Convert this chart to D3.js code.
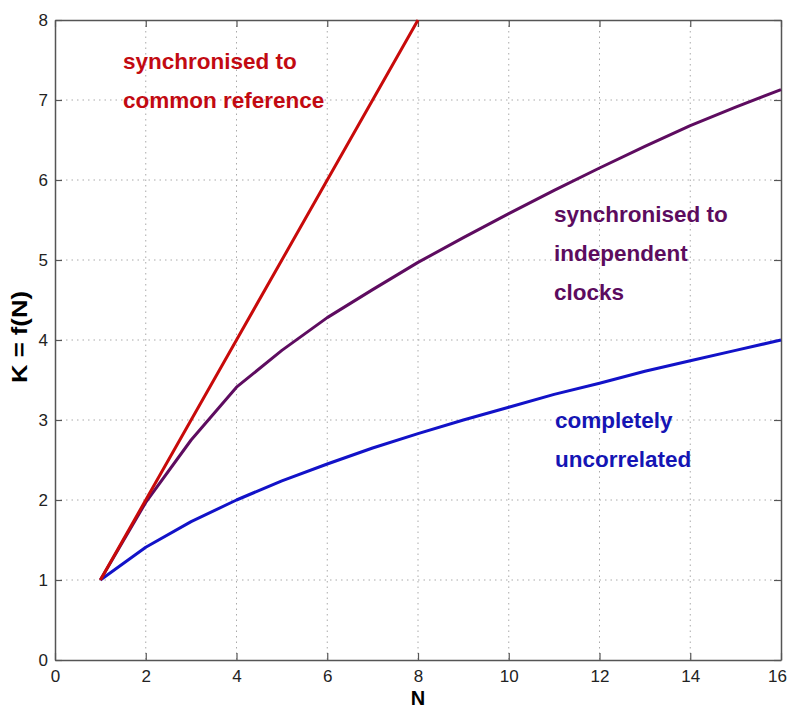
<!DOCTYPE html>
<html><head><meta charset="utf-8">
<script src="https://cdn.jsdelivr.net/npm/d3@7"></script>
<style>body{margin:0;background:#fff}svg{display:block}text{font-family:"Liberation Sans",Arial,Helvetica,sans-serif}</style>
</head><body><svg id="c" width="789" height="709"></svg>
<script>
const nCommon = [1,2,3,4,5,6,7,8];
const kCommon = [1,2,3,4,5,6,7,8];
const nAll = [1,2,3,4,5,6,7,8,9,10,11,12,13,14,15,16];
const kIndependent = [1,1.97,2.75,3.41,3.87,4.28,4.63,4.97,5.28,5.58,5.87,6.15,6.42,6.68,6.91,7.13];
const kUncorrelated = [1,1.41,1.73,2,2.24,2.45,2.65,2.83,3,3.16,3.32,3.46,3.61,3.74,3.87,4];
const xTicks = [0,2,4,6,8,10,12,14,16];
const yTicks = [0,1,2,3,4,5,6,7,8];
const labelCommon = ["synchronised to","common reference"];
const labelIndependent = ["synchronised to","independent","clocks"];
const labelUncorrelated = ["completely","uncorrelated"];

(function(){
const svg = d3.select("#c");
const L=55,R=781,T=20,B=660;
const x = d3.scaleLinear().domain([0,16]).range([L,R]);
const y = d3.scaleLinear().domain([0,8]).range([B,T]);

// grid
const g = svg.append("g");
g.selectAll(".gx").data(xTicks.slice(1,-1)).enter().append("line")
 .attr("x1",d=>x(d)).attr("x2",d=>x(d)).attr("y1",T).attr("y2",B)
 .attr("stroke","#aaa").attr("stroke-width",1).attr("stroke-dasharray","1.5,4");
g.selectAll(".gy").data(yTicks.slice(1,-1)).enter().append("line")
 .attr("y1",d=>y(d)).attr("y2",d=>y(d)).attr("x1",L).attr("x2",R)
 .attr("stroke","#aaa").attr("stroke-width",1).attr("stroke-dasharray","1.5,4");

// axes (inward ticks)
const axCol="#555";
const axB = svg.append("g").attr("transform",`translate(0,${B})`)
 .call(d3.axisBottom(x).tickValues(xTicks).tickFormat(d3.format("d")).tickSizeInner(-7).tickSizeOuter(0).tickPadding(10));
const axL = svg.append("g").attr("transform",`translate(${L},0)`)
 .call(d3.axisLeft(y).tickValues(yTicks).tickFormat(d3.format("d")).tickSizeInner(-7).tickSizeOuter(0).tickPadding(7));
const axT = svg.append("g").attr("transform",`translate(0,${T})`)
 .call(d3.axisTop(x).tickValues(xTicks).tickFormat("").tickSizeInner(-7).tickSizeOuter(0));
const axR = svg.append("g").attr("transform",`translate(${R},0)`)
 .call(d3.axisRight(y).tickValues(yTicks).tickFormat("").tickSizeInner(-7).tickSizeOuter(0));
[axB,axL,axT,axR].forEach(a=>{
  a.select(".domain").attr("stroke",axCol).attr("stroke-width",1.5);
  a.selectAll(".tick line").attr("stroke",axCol).attr("stroke-width",1.2);
  a.selectAll(".tick text").attr("font-size",17).attr("fill","#222")
   .attr("font-family","'Liberation Sans',Arial,sans-serif");
});
axB.selectAll(".tick text").attr("dy","0.71em").attr("dx",d=>d===16?-4:0);

// lines
const line = d3.line().x(d=>x(d[0])).y(d=>y(d[1]));
function draw(xs,ys,col){
  svg.append("path").datum(xs.map((v,i)=>[v,ys[i]])).attr("d",line)
   .attr("fill","none").attr("stroke",col).attr("stroke-width",3).attr("stroke-linejoin","round");
}
draw(nAll,kUncorrelated,"#1212c8");
draw(nAll,kIndependent,"#5e0c60");
draw(nCommon,kCommon,"#c80a0a");

// annotations
function label(lines,x0,y0,col){
  lines.forEach((t,i)=>svg.append("text").attr("x",x0).attr("y",y0+i*39)
   .attr("font-size",22.5).attr("font-weight","bold").attr("fill",col).text(t));
}
label(labelCommon,123,69,"#c20a12");
label(labelIndependent,554,222,"#5c0c5e");
label(labelUncorrelated,555,428,"#1515b4");

// axis titles
svg.append("text").attr("x",x(8)).attr("y",704.5).attr("text-anchor","middle")
 .attr("font-size",20).attr("font-weight","bold").attr("fill","#000").text("N");
svg.append("text").attr("transform","translate(27,337) rotate(-90)").attr("text-anchor","middle")
 .attr("font-size",22).attr("font-weight","bold").attr("fill","#000")
 .attr("textLength",92).attr("lengthAdjust","spacingAndGlyphs").text("K = f(N)");
})();
</script></body></html>
